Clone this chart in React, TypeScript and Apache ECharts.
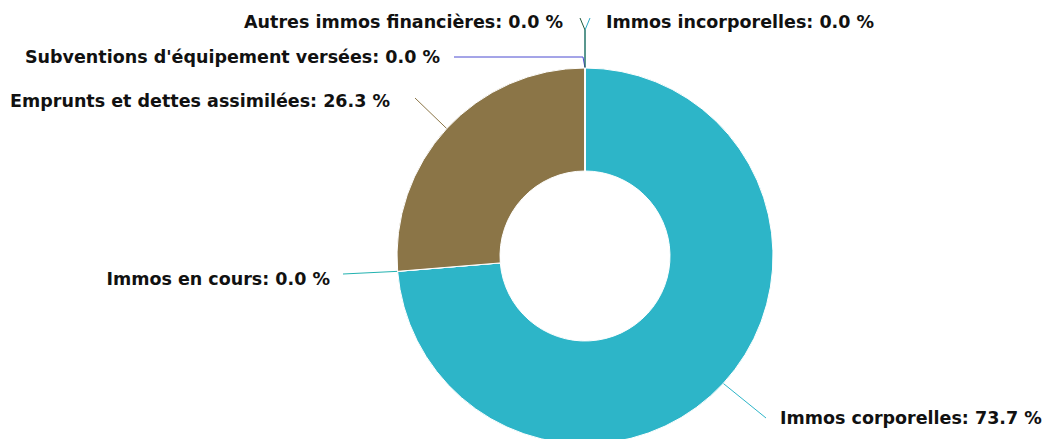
import React, { useEffect, useRef } from "react";
import * as echarts from "echarts";

const categories = [
  "Immos incorporelles",
  "Immos corporelles",
  "Immos en cours",
  "Emprunts et dettes assimilées",
  "Subventions d'équipement versées",
  "Autres immos financières",
];
const values = [0, 73.7, 0, 26.3, 0, 0];
const colors = ["#2aa9c4", "#2db5c8", "#22b2b0", "#8b7547", "#4a4ad0", "#1f5a3c"];

// label anchor positions & alignment (layout only)
const labelPos: { x: number; y: number; align: string; line: number[][] }[] = [
  { x: 606, y: 22, align: "left", line: [[585, 30], [590, 18]] },
  { x: 780, y: 418, align: "left", line: [[766, 418], [766, 418]] },
  { x: 330, y: 279, align: "right", line: [[343, 274], [343, 274]] },
  { x: 390, y: 101, align: "right", line: [[415, 98], [415, 98]] },
  { x: 440, y: 57, align: "right", line: [[583, 57], [454, 57]] },
  { x: 563, y: 22, align: "right", line: [[585, 30], [580, 18]] },
];

export default function App() {
  const ref = useRef<HTMLDivElement>(null);
  useEffect(() => {
    const chart = echarts.init(ref.current!, null, { renderer: "svg" });
    chart.setOption({
      animation: false,
      backgroundColor: "#ffffff",
      series: [
        {
          type: "pie",
          center: [585, 256],
          radius: [85, 188],
          startAngle: 90,
          clockwise: true,
          avoidLabelOverlap: false,
          itemStyle: { borderColor: "#ffffff", borderWidth: 1 },
          label: {
            show: true,
            position: "outside",
            fontFamily: "DejaVu Sans",
            fontWeight: "bold",
            fontSize: 17.5,
            color: "#111111",
            formatter: (p: any) => `${p.name}: ${Number(p.percent).toFixed(1)} %`,
          },
          labelLine: { show: true, length: 20, length2: 20, lineStyle: { width: 1 } },
          labelLayout: (params: any) => {
            const lp = labelPos[params.dataIndex];
            const start = params.labelLinePoints ? params.labelLinePoints[0] : lp.line[0];
            return {
              x: lp.x,
              y: lp.y,
              align: lp.align,
              verticalAlign: "middle",
              labelLinePoints: [start, lp.line[0], lp.line[1]],
            };
          },
          data: categories.map((name, i) => ({
            name,
            value: values[i],
            itemStyle: { color: colors[i] },
          })),
        },
      ],
    });
    return () => chart.dispose();
  }, []);
  return (
    <div
      ref={ref}
      style={{ position: "fixed", left: 0, top: 0, width: 1044, height: 439 }}
    />
  );
}
